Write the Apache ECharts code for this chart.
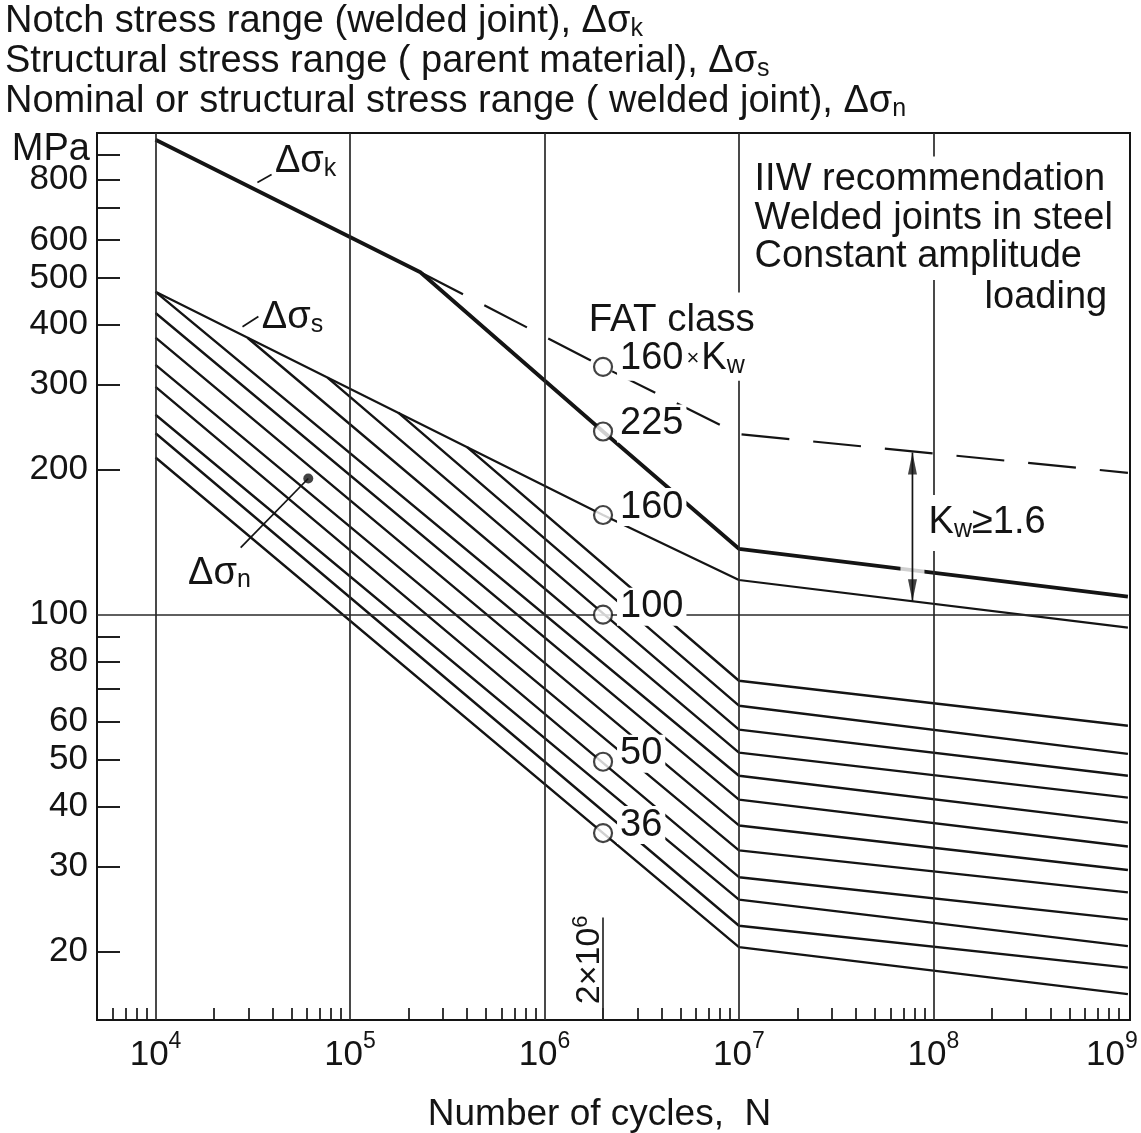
<!DOCTYPE html>
<html>
<head>
<meta charset="utf-8">
<script src="https://cdn.jsdelivr.net/npm/echarts@6/dist/echarts.min.js"></script>
<style>html,body{margin:0;padding:0;background:#fff}#chart{width:1141px;height:1133px}</style>
</head>
<body>
<div id="chart"></div>
<script>
// ---------------- data ----------------
const xLabelValues = [1e4, 1e5, 1e6, 1e7, 1e8, 1e9];
const xMinorTickValues = [6e3,7e3,8e3,9e3,
  2e4,3e4,4e4,5e4,6e4,7e4,8e4,9e4,
  2e5,3e5,4e5,5e5,6e5,7e5,8e5,9e5,
  2e6,3e6,4e6,5e6,6e6,7e6,8e6,9e6,
  2e7,3e7,4e7,5e7,6e7,7e7,8e7,9e7,
  2e8,3e8,4e8,5e8,6e8,7e8,8e8,9e8];
const yLabelValues = [20, 30, 40, 50, 60, 80, 100, 200, 300, 400, 500, 600, 800];
const yTickValues = [20, 30, 40, 50, 60, 70, 80, 90, 200, 300, 400, 500, 600, 700, 800, 900];
const gridCycles = [1e4, 1e5, 1e6, 1e7, 1e8];
const gridStress = [100];

// notch stress curve (thick), delta sigma k
const notchN = [1e4, 2.3e5, 2e6, 1e7, 1e9];
const notchS = [968, 514, 240, 137, 109];
// 160 x Kw curve (dashed)
const kwN = [2.3e5, 2e6, 1e7, 1e9];
const kwS = [514, 327, 237, 197];
// parent material curve, delta sigma s
const parentN = [1e4, 2e6, 1e7, 1e9];
const parentS = [468, 161, 118, 94];
// FAT class lines (welded joints), delta sigma n
const fatClasses = [125, 112, 100, 90, 80, 71, 63, 56, 50, 45, 40, 36];
const fatStartN  = [4.0e5, 1.77e5, 7.66e4, 2.97e4, 1e4, 1e4, 1e4, 1e4, 1e4, 1e4, 1e4, 1e4];
const fatStartS  = [222.7, 262.6, 310.6, 375.7, 468, 423, 376, 330, 297, 260, 238, 212];
const fatKneeS   = [72.9, 64.7, 57.7, 51.7, 46.3, 41.3, 36.5, 32.4, 28.5, 25.6, 22.6, 20.4];
const fatEndS    = [58.8, 51.4, 46.3, 41.7, 37.0, 33.0, 29.5, 26.5, 23.3, 20.5, 18.5, 16.3];
const kneeN = 1e7, endN = 1e9;
// reference points at 2e6 cycles
const refN = 2e6;
const refS = [327, 240, 161, 100, 49.5, 35.2];
const refLabels = ['{m|160}{x|×}{m|K}{s|w}', '225', '160', '100', '50', '36'];
// Kw arrow
const arrowN = 7.8e7;
const arrowS = [217, 106.6];
// leaders and dot
const leaderK = [[3.34e4, 789], [3.95e4, 820]];
const leaderS = [[2.8e4, 396], [3.38e4, 416]];
const leaderN = [[2.74e4, 137.8], [6.1e4, 191.7]];
const dotPoint = [6.1e4, 191.7];
const markerTop = 23.5; // short line at 2x10^6

// ---------------- layout / style ----------------
const FONT = '"Liberation Sans", Arial, Helvetica, sans-serif';
const INK = '#141414';
const X_MIN = 5000, X_MAX = 1.025e9, Y_MIN = 14.4, Y_MAX = 1000;

const chart = echarts.init(document.getElementById('chart'), null, {renderer: 'canvas'});

function lineSeries(name, data, width, extra) {
  return Object.assign({
    name, type: 'line', data, showSymbol: false, symbol: 'none', silent: true,
    lineStyle: {color: INK, width: width}, z: 3, animation: false
  }, extra || {});
}
function zip(ns, ss) { return ns.map((n, i) => [n, ss[i]]); }

const series = [];
// grid lines
series.push({
  type: 'line', data: [], silent: true, z: 1,
  markLine: {
    silent: true, symbol: 'none', animation: false,
    label: {show: false},
    lineStyle: {color: '#2a2a2a', width: 1.7, type: 'solid'},
    data: gridCycles.map(v => ({xAxis: v}))
      .concat(gridStress.map(v => ({yAxis: v})))
      .concat([[{coord: [refN, Y_MIN]}, {coord: [refN, markerTop]}]])
  }
});
fatClasses.forEach((fat, i) => {
  series.push(lineSeries('FAT ' + fat,
    [[fatStartN[i], fatStartS[i]], [kneeN, fatKneeS[i]], [endN, fatEndS[i]]], 2.4, {z: 2}));
});
series.push(lineSeries('parent', zip(parentN, parentS), 2.2, {z: 2}));
series.push(lineSeries('notch', zip(notchN, notchS), 3.8, {z: 3}));
series.push(lineSeries('160xKw', zip(kwN, kwS), 2.2, {z: 3, lineStyle: {color: INK, width: 2.2, type: [48, 24]}}));
series.push(lineSeries('leaderK', leaderK, 1.7));
series.push(lineSeries('leaderS', leaderS, 1.7));
series.push(lineSeries('leaderN', leaderN, 1.7));
series.push({type: 'scatter', data: [dotPoint], symbol: 'circle', symbolSize: 10, itemStyle: {color: INK}, silent: true, z: 4});

// white mask on thick line at arrow (interpolated from notch data in log-log)
function logInterp(ns, ss, n) {
  for (let i = 0; i < ns.length - 1; i++) {
    if (n >= ns[i] && n <= ns[i + 1]) {
      const t = (Math.log10(n) - Math.log10(ns[i])) / (Math.log10(ns[i + 1]) - Math.log10(ns[i]));
      return Math.pow(10, Math.log10(ss[i]) + t * (Math.log10(ss[i + 1]) - Math.log10(ss[i])));
    }
  }
  return ss[ss.length - 1];
}
series.push({type: 'scatter', data: [[arrowN, logInterp(notchN, notchS, arrowN)]], symbol: 'rect',
  symbolSize: [24, 12], itemStyle: {color: '#fff'}, silent: true, z: 4});
series.push(lineSeries('arrow', [[arrowN, arrowS[0]], [arrowN, arrowS[1]]], 1.7, {z: 5}));
series.push({type: 'scatter', data: [[arrowN, arrowS[0]]], symbol: 'path://M5,0 L10,20 L0,20 Z',
  symbolSize: [9, 22], symbolOffset: [0, 11], itemStyle: {color: INK}, silent: true, z: 5});
series.push({type: 'scatter', data: [[arrowN, arrowS[1]]], symbol: 'path://M0,0 L10,0 L5,20 Z',
  symbolSize: [9, 22], symbolOffset: [0, -11], itemStyle: {color: INK}, silent: true, z: 5});
// reference circles
series.push({type: 'scatter', data: refS.map(s => [refN, s]), symbol: 'circle', symbolSize: 18,
  itemStyle: {color: '#fff', borderColor: INK, borderWidth: 2.2}, silent: true, z: 6});

const option = {
  animation: false,
  backgroundColor: '#ffffff',
  grid: {left: 97, right: 11, top: 133, bottom: 113, show: true, borderColor: INK, borderWidth: 2,
    containLabel: false, outerBoundsMode: 'none'},
  xAxis: {
    type: 'log', logBase: 10, min: X_MIN, max: X_MAX,
    axisLine: {show: true, lineStyle: {color: INK, width: 2}},
    axisTick: {show: true, inside: true, length: 12, customValues: xMinorTickValues, lineStyle: {color: INK, width: 1.7}},
    axisLabel: {
      customValues: xLabelValues, margin: 10, color: INK, hideOverlap: false,
      formatter: v => {
        const e = Math.round(Math.log10(v));
        return '{b|10}{p|' + e + '}' + (v >= 1e9 ? '{e| }' : '');
      },
      rich: {
        b: {fontSize: 35, fontFamily: FONT, color: INK, lineHeight: 50},
        p: {fontSize: 23, fontFamily: FONT, color: INK, lineHeight: 23, verticalAlign: 'top'},
        e: {fontSize: 10, width: 32, lineHeight: 10}
      }
    },
    splitLine: {show: false},
    name: 'Number of cycles,  N', nameLocation: 'middle', nameGap: 76,
    nameTextStyle: {fontSize: 37, fontFamily: FONT, color: INK, padding: [0, 28, 0, 0]}
  },
  yAxis: {
    type: 'log', logBase: 10, min: Y_MIN, max: Y_MAX,
    axisLine: {show: true, lineStyle: {color: INK, width: 2}},
    axisTick: {show: true, inside: true, length: 23, customValues: yTickValues, lineStyle: {color: INK, width: 1.9}},
    axisLabel: {customValues: yLabelValues, margin: 9, fontSize: 35, fontFamily: FONT, color: INK, hideOverlap: false},
    splitLine: {show: false}
  },
  series
};
chart.setOption(option);

// ---------------- text annotations ----------------
const RICH = {
  m: {fontSize: 38, fontFamily: FONT, fill: INK, lineHeight: 40},
  s: {fontSize: 25, fontFamily: FONT, fill: INK, lineHeight: 24, verticalAlign: 'bottom'},
  x: {fontSize: 22, fontFamily: FONT, fill: INK, lineHeight: 40, padding: [0, 2, 0, 3]},
  p: {fontSize: 24, fontFamily: FONT, fill: INK, lineHeight: 24, verticalAlign: 'top'}
};
function textEl(x, y, text, style, extra) {
  return Object.assign({
    type: 'text', x, y, z: 100, silent: true,
    style: Object.assign({text, fill: INK, fontFamily: FONT, fontSize: 38, align: 'left',
      verticalAlign: 'middle', rich: RICH}, style || {})
  }, extra || {});
}
const px = p => chart.convertToPixel({gridIndex: 0}, p);
const WHITE = {backgroundColor: '#fff', padding: [2, 3]};

// in-plot annotation anchors (data coordinates)
const annotations = [
  {at: [4.11e4, 871], text: '{m|Δσ}{s|k}', style: {}},
  {at: [3.52e4, 413], text: '{m|Δσ}{s|s}', style: {}},
  {at: [1.47e4, 122], text: '{m|Δσ}{s|n}', style: {}},
  {at: [1.61e6, 413], text: 'FAT class', style: {fontSize: 38.5, backgroundColor: '#fff', padding: [8, 4, 4, 4]}},
  {at: [1.12e7, 665], text: 'IIW recommendation\nWelded joints in steel\nConstant amplitude',
    style: {fontSize: 38, lineHeight: 38.5, backgroundColor: '#fff', padding: [4, 6]}},
  {at: [8.2e8, 456], text: 'loading', style: {fontSize: 38, align: 'right', backgroundColor: '#fff', padding: [2, 4]}},
  {at: [9.0e7, 155], text: '{m|K}{s|w}{m|≥1.6}', style: {backgroundColor: '#fff', padding: [8, 4]}}
];
const graphics = [];
annotations.forEach(a => {
  const p = px(a.at);
  graphics.push(textEl(p[0], p[1], a.text, a.style));
});
refS.forEach((s, i) => {
  const p = px([refN, s]);
  graphics.push(textEl(p[0] + 14, p[1] - 8, refLabels[i], Object.assign({lineHeight: 34}, WHITE)));
});
// rotated 2x10^6
const pr = px([1.71e6, 19.2]);
graphics.push(textEl(pr[0], pr[1], '{m|2×10}{p|6}', {align: 'center', verticalAlign: 'middle',
  rich: Object.assign({}, RICH, {m: {fontSize: 34, fontFamily: FONT, fill: INK, lineHeight: 40},
    p: {fontSize: 22, fontFamily: FONT, fill: INK, lineHeight: 22, verticalAlign: 'top'}})},
  {rotation: Math.PI / 2}));
// titles and unit
graphics.push(textEl(5, 22, 'Notch stress range (welded joint), {m|Δσ}{s|k}', {fontSize: 38}));
graphics.push(textEl(5, 62, 'Structural stress range ( parent material), {m|Δσ}{s|s}', {fontSize: 38}));
graphics.push(textEl(5, 102, 'Nominal or structural stress range ( welded joint), {m|Δσ}{s|n}', {fontSize: 38}));
graphics.push(textEl(90, 150, 'MPa', {fontSize: 38, align: 'right'}));

chart.setOption({graphic: graphics});
</script>
</body>
</html>
